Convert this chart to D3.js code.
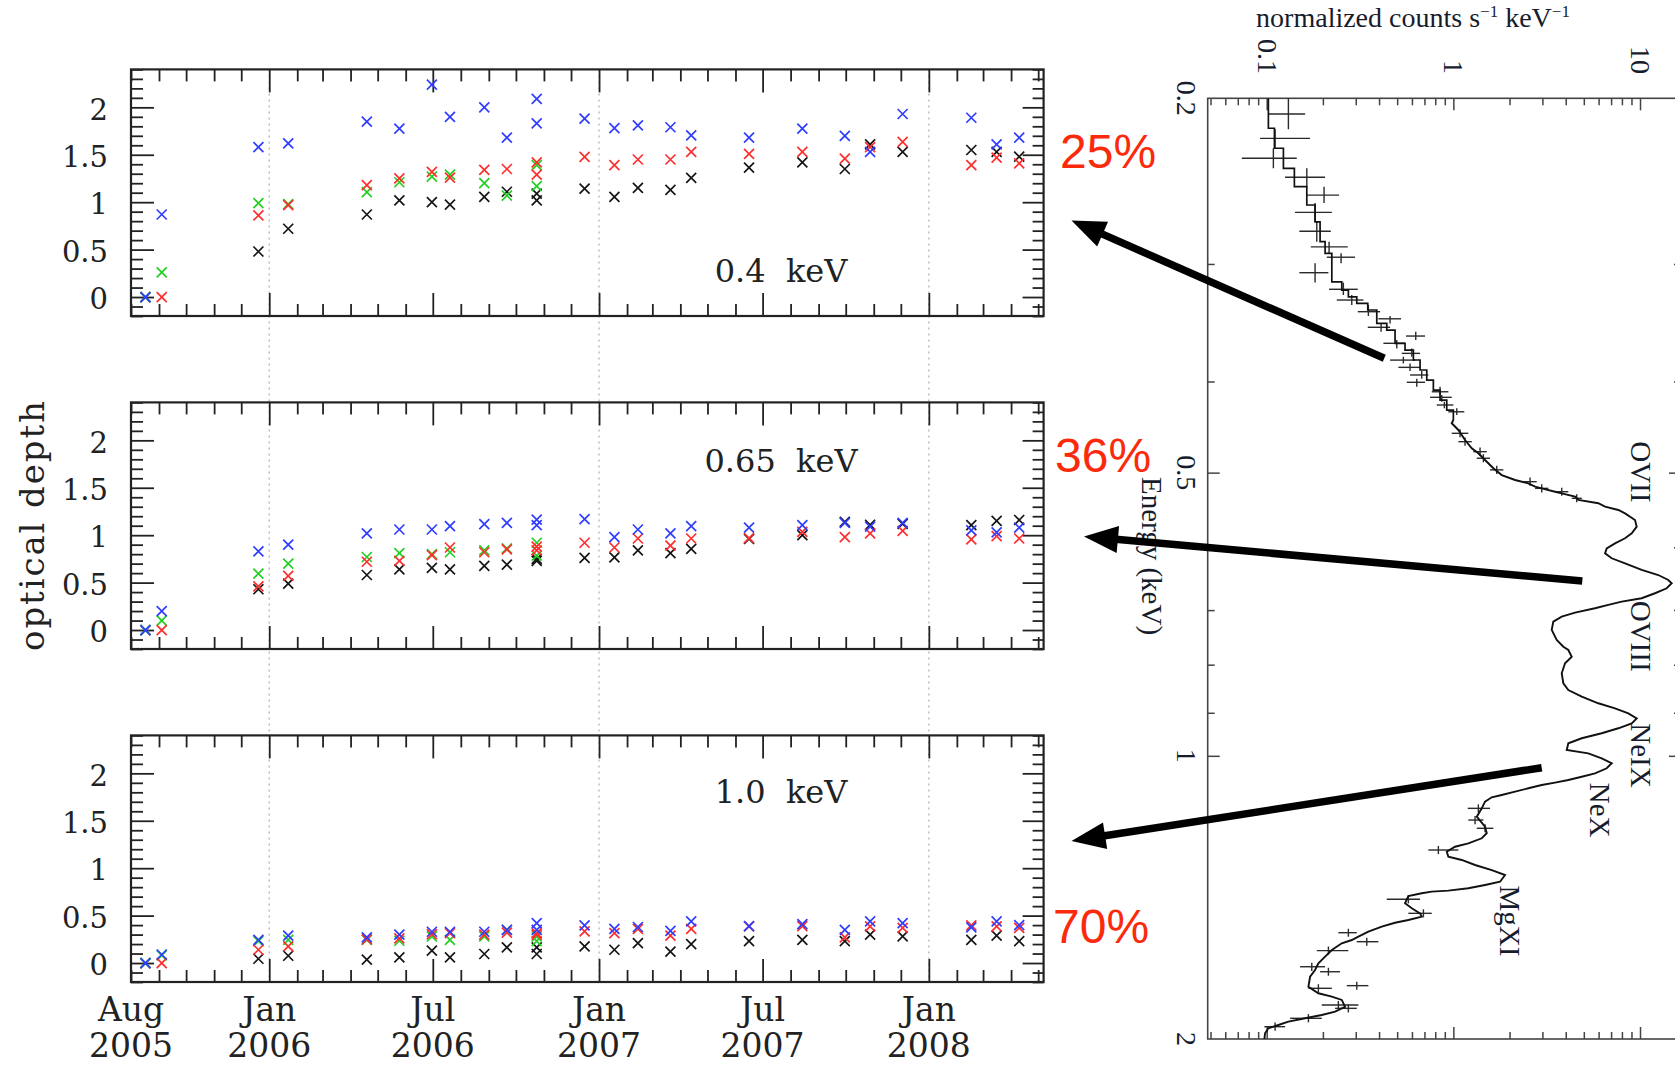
<!DOCTYPE html>
<html>
<head>
<meta charset="utf-8">
<script src="https://cdn.jsdelivr.net/npm/d3@7"></script>
<style>
  body { margin: 0; background: #fff; }
  svg { display: block; }
</style>
</head>
<body>
<svg id="chart" width="1675" height="1065"></svg>
<script>
// ---------------- optical depth time series ----------------
const _ = null;
const obsDates = [
  "2005-08-17","2005-09-04","2005-12-20","2006-01-22","2006-04-19","2006-05-25",
  "2006-06-30","2006-07-20","2006-08-27","2006-09-21","2006-10-24","2006-10-24",
  "2006-12-16","2007-01-18","2007-02-13","2007-03-21","2007-04-13","2007-06-16",
  "2007-08-14","2007-09-30","2007-10-28","2007-12-03","2008-02-17","2008-03-16","2008-04-10"
];

// 0.4 keV
const tau04Black = [0,_,0.48,0.72,0.87,1.02,1.00,0.975,1.056,1.11,1.09,1.02,1.144,1.056,1.15,1.13,1.256,1.365,1.42,1.35,1.61,1.53,1.55,1.53,1.48];
const tau04Green = [0,0.26,0.99,0.98,1.105,1.21,1.27,1.29,1.20,1.07,1.39,1.17,_,_,_,_,_,_,_,_,_,_,_,_,_];
const tau04Red   = [_,0,0.86,0.97,1.18,1.25,1.32,1.26,1.34,1.35,1.42,1.29,1.477,1.39,1.45,1.45,1.53,1.51,1.53,1.46,1.58,1.635,1.39,1.47,1.41];
const tau04Blue  = [0,0.87,1.58,1.62,1.85,1.775,2.24,1.90,2.00,1.68,2.09,1.83,1.88,1.78,1.81,1.79,1.705,1.68,1.775,1.70,1.53,1.93,1.89,1.61,1.68];

// 0.65 keV
const tau065Black = [0,_,0.43,0.49,0.58,0.64,0.655,0.64,0.676,0.69,0.75,0.73,0.76,0.765,0.84,0.81,0.855,0.96,1.0,1.14,1.11,1.12,1.105,1.15,1.16];
const tau065Green = [0,0.10,0.595,0.70,0.77,0.81,0.80,0.82,0.84,0.86,0.92,0.785,_,_,_,_,_,_,_,_,_,_,_,_,_];
const tau065Red   = [_,0,0.46,0.57,0.72,0.73,0.79,0.87,0.82,0.85,0.88,0.84,0.92,0.87,0.965,0.89,0.965,0.97,1.035,0.98,1.02,1.045,0.955,0.99,0.965];
const tau065Blue  = [0,0.20,0.83,0.90,1.02,1.06,1.06,1.095,1.116,1.13,1.165,1.105,1.17,0.98,1.06,1.02,1.095,1.08,1.105,1.13,1.09,1.13,1.05,1.03,1.08];

// 1.0 keV
const tau10Black = [0,_,0.045,0.077,0.035,0.06,0.13,0.06,0.095,0.165,0.165,0.095,0.175,0.14,0.21,0.12,0.20,0.23,0.245,0.23,0.30,0.28,0.245,0.29,0.23];
const tau10Green = [0,0.08,0.23,0.245,0.245,0.235,0.28,0.245,0.28,0.35,0.28,0.23,_,_,_,_,_,_,_,_,_,_,_,_,_];
const tau10Red   = [_,0,0.14,0.175,0.25,0.26,0.305,0.315,0.30,0.32,0.315,0.30,0.333,0.316,0.36,0.29,0.36,0.386,0.39,0.27,0.386,0.37,0.396,0.386,0.37];
const tau10Blue  = [0,0.09,0.245,0.29,0.27,0.30,0.33,0.33,0.33,0.35,0.42,0.35,0.396,0.36,0.38,0.34,0.44,0.39,0.41,0.35,0.44,0.42,0.375,0.44,0.40];

const bandLabels = ["0.4  keV", "0.65  keV", "1.0  keV"];
const bandLabelTau = [0.16, 1.67, 1.69];
const seriesColors = ["#151515", "#22d022", "#ff2e2e", "#2f3dff"];
const tauTickValues = [0, 0.5, 1, 1.5, 2];
const dateLabelTicks = ["2005-08-01","2006-01-01","2006-07-01","2007-01-01","2007-07-01","2008-01-01"];
const transmission = ["25%", "36%", "70%"];

// ---------------- spectrum ----------------
// model curve: energy (keV) and normalized counts; the first 25 entries are wide bins
const specEnergy = [0.2,0.2152,0.2260,0.2374,0.2483,0.2597,0.2706,0.2841,0.2923,0.3134,0.3198,0.3251,0.3304,0.3358,0.3470,0.3527,0.3643,0.3704,0.3795,0.3889,0.3986,0.4085,0.4186,0.4290,0.4396,
  0.4431,0.4504,0.4616,0.4711,0.4769,0.4848,0.4947,0.5030,0.5091,0.5133,0.5175,0.5196,0.5239,0.5260,0.5303,0.5346,0.5389,0.5434,0.5479,0.5524,0.5615,0.5707,0.5800,0.5871,0.5945,0.6018,0.6092,0.6166,0.6242,0.6345,0.6424,0.6503,0.6555,0.6636,0.6717,0.6800,0.6856,0.6912,0.6968,0.7043,0.7113,0.7201,0.7348,0.7531,0.7656,0.7718,0.7846,0.7973,0.8170,0.8374,0.8512,0.8652,0.8793,0.8903,0.9012,0.9123,0.9235,0.9348,0.9463,0.9579,0.9698,0.9858,
  0.9939,1.0061,1.0184,1.0309,1.0438,1.0525,1.0610,1.0679,1.0741,1.0827,1.0917,1.1006,1.1069,1.1187,1.1372,1.1607,1.1894,1.2087,1.2236,1.2389,1.2492,1.2645,1.2800,1.2904,1.3063,1.3226,1.3388,1.3609,1.3719,1.3830,1.3910,1.3945,1.4000,1.4094,1.4346,1.4525,1.4704,1.4826,1.4946,1.5046,1.5192,1.5379,1.5568,1.5697,1.5824,1.6085,1.6350,1.6616,1.6890,1.7173,1.7597,1.7883,1.8031,1.8177,1.8481,1.8708,1.8860,1.9012,1.9170,1.9325,1.9482,1.9721,2.0];
const specCounts = [0.1021,0.1021,0.1100,0.1229,0.1407,0.1640,0.1816,0.1932,0.2055,0.2233,0.2525,0.2739,0.3038,0.3479,0.3888,0.4399,0.4872,0.5510,0.6107,0.6632,0.7203,0.7814,0.8487,0.9218,1.000,
  0.980,1.064,1.155,1.255,1.361,1.478,1.638,1.816,2.141,2.522,2.739,2.975,3.505,3.807,4.486,4.673,5.978,6.495,7.653,8.313,9.402,9.601,9.027,8.313,7.347,6.630,6.495,7.053,8.313,10.21,12.53,14.17,14.78,13.90,12.03,10.21,7.980,6.764,5.741,4.486,3.807,3.432,3.365,3.579,3.884,4.130,4.308,3.966,3.807,3.884,4.130,4.873,5.978,7.347,8.659,9.601,9.027,7.653,6.234,4.873,4.130,4.049,
  5.285,6.234,7.053,6.630,5.741,4.873,4.130,3.505,2.975,2.522,2.141,1.816,1.606,1.478,1.420,1.335,1.478,1.510,1.420,1.203,1.021,0.922,0.940,1.109,1.307,1.606,1.892,1.779,1.478,1.203,0.940,0.766,0.677,0.574,0.551,0.599,0.663,0.677,0.574,0.487,0.4135,0.3505,0.3099,0.2856,0.2525,0.2233,0.2055,0.1892,0.1816,0.1708,0.1673,0.1892,0.2233,0.2525,0.2630,0.2325,0.1973,0.1606,0.1307,0.1155,0.1021,0.0980,0.0972];
const wideBinCount = 25;

// data points with error bars
const errEnergy   = [0.2078,0.2206,0.2316,0.2426,0.2535,0.2644,0.2769,0.2877,0.2951,0.3065,0.3192,0.3277,0.3372,0.3431,0.3503,0.3579,0.3643,0.3734,0.3796,0.3864,0.3937,0.4008,0.4102,0.4158,0.4237,0.4308,
  0.4541,0.4635,0.4750,0.4827,0.4966,0.5112,0.5196,0.5239,0.5324,
  1.1372,1.1702,1.1941,1.2593,1.4208,1.4704,1.5418,1.5762,1.6111,1.6758,1.6964,1.7552,1.7666,1.8405,1.8554,1.9012,1.9406];
const errEnergyLo = [0.2000,0.2158,0.2260,0.2374,0.2483,0.2584,0.2706,0.2841,0.2923,0.2995,0.3140,0.3237,0.3317,0.3408,0.3470,0.3541,0.3614,0.3689,0.3765,0.3827,0.3899,0.3973,0.4051,0.4135,0.4203,0.4271,
  0.4496,0.4589,0.4703,0.4779,0.4916,0.5061,0.5144,0.5187,0.5271,
  1.126,1.159,1.182,1.247,1.407,1.456,1.527,1.561,1.595,1.659,1.680,1.738,1.749,1.822,1.837,1.882,1.921];
const errEnergyHi = [0.2158,0.2260,0.2374,0.2483,0.2584,0.2706,0.2841,0.2923,0.2995,0.3140,0.3237,0.3317,0.3408,0.3470,0.3541,0.3614,0.3689,0.3765,0.3827,0.3899,0.3973,0.4051,0.4135,0.4203,0.4271,0.4343,
  0.4586,0.4681,0.4798,0.4875,0.5016,0.5163,0.5248,0.5291,0.5377,
  1.149,1.182,1.206,1.272,1.435,1.485,1.557,1.592,1.627,1.693,1.713,1.773,1.784,1.859,1.874,1.920,1.960];
const errCounts   = [0.1307,0.1109,0.1086,0.1640,0.2029,0.1816,0.1855,0.2159,0.2503,0.1816,0.2575,0.2856,0.3505,0.4581,0.4101,0.6289,0.4976,0.5986,0.5396,0.5862,0.6770,0.6368,0.8487,0.8667,0.8949,1.043,
  1.086,1.155,1.390,1.448,1.708,2.575,2.975,3.807,4.581,
  1.361,1.307,1.478,0.8311,0.574,0.6910,0.2739,0.3437,0.2141,0.1744,0.2141,0.3038,0.1892,0.2421,0.2739,0.1673,0.1109];
const errCountsLo = [0.1021,0.0922,0.0736,0.1255,0.1640,0.1419,0.1496,0.1723,0.2098,0.1496,0.2159,0.2374,0.3075,0.3966,0.3479,0.5580,0.4218,0.5290,0.4581,0.5075,0.5862,0.5629,0.7660,0.7504,0.8150,0.940,
  0.980,1.064,1.280,1.335,1.573,2.371,2.739,3.505,4.308,
  1.194,1.203,1.335,0.7347,0.4399,0.574,0.2421,0.3038,0.1855,0.1510,0.1932,0.2685,0.1673,0.1973,0.2325,0.1335,0.0972];
const errCountsHi = [0.1606,0.1708,0.1449,0.2055,0.2443,0.2233,0.2205,0.2719,0.2975,0.2141,0.3075,0.3296,0.4050,0.5247,0.4581,0.7053,0.5510,0.6632,0.6236,0.6632,0.7347,0.7053,0.9400,0.9800,1.000,1.145,
  1.203,1.255,1.510,1.573,1.853,2.797,3.227,4.130,4.873,
  1.573,1.448,1.638,1.064,0.6632,0.766,0.3038,0.3966,0.2739,0.2055,0.2472,0.3505,0.2233,0.3099,0.3038,0.1973,0.1255];

const countMajorTicks = [0.1, 1, 10];
const countMinorTicks = [0.05,0.06,0.07,0.08,0.09,0.2,0.3,0.4,0.5,0.6,0.7,0.8,0.9,2,3,4,5,6,7,8,9];
const energyMajorTicks = [0.5, 1];
const energyMinorTicks = [0.3,0.4,0.6,0.7,0.8,0.9];
const energyTickLabels = [0.2, 0.5, 1, 2];

// emission line identifications (label centre energy, label baseline counts)
const lineNames  = ["OVII", "OVIII", "NeIX", "NeX", "MgXI"];
const lineLabelE = [0.499, 0.746, 0.999, 1.142, 1.498];
const lineLabelC = [8.95, 8.95, 8.9, 5.4, 1.78];

// =======================================================
const svg = d3.select("#chart");
svg.append("rect").attr("width", 1675).attr("height", 1065).attr("fill", "#fff");

const parse = d3.utcParse("%Y-%m-%d");
const dates = obsDates.map(parse);
const xStart = parse("2005-08-01"), xEnd = parse("2008-05-07");
const x = d3.scaleUtc().domain([xStart, xEnd]).range([131, 1043.6]);
const panelTop = [69.4, 402.4, 735.4];
const panelH = 246.6;
const serif = "'DejaVu Serif', serif";

const months = d3.utcMonth.range(xStart, d3.utcDay.offset(xEnd, 1));
const isMajorMonth = d => d.getUTCMonth() === 0 || d.getUTCMonth() === 6;
const majorMonths = months.filter(isMajorMonth);
const minorMonths = months.filter(d => !isMajorMonth(d));
const tauMinor = d3.range(-2, 25).filter(k => k % 5 !== 0).map(k => k / 10);
const tauMajor = [0, 0.5, 1, 1.5, 2];

// dotted year markers behind every panel
const gridLayer = svg.append("g");
[parse("2006-01-01"), parse("2007-01-01"), parse("2008-01-01")].forEach(d => {
  gridLayer.append("line")
    .attr("x1", x(d)).attr("x2", x(d))
    .attr("y1", panelTop[0]).attr("y2", panelTop[2] + panelH)
    .attr("stroke", "#b8b8b8").attr("stroke-width", 1.4)
    .attr("stroke-dasharray", "2,4");
});

function styleTicks(sel) {
  sel.select(".domain").remove();
  sel.selectAll("line").attr("stroke", "#222").attr("stroke-width", 1.8);
  sel.selectAll("text").remove();
}

const panelSeries = [
  [tau04Black, tau04Green, tau04Red, tau04Blue],
  [tau065Black, tau065Green, tau065Red, tau065Blue],
  [tau10Black, tau10Green, tau10Red, tau10Blue]
];

panelSeries.forEach((series, pi) => {
  const top = panelTop[pi], bottom = top + panelH;
  const y = d3.scaleLinear().domain([-0.2, 2.4]).range([bottom, top]);
  const g = svg.append("g");

  // ticks on all four sides, pointing inward
  g.append("g").attr("transform", `translate(0,${bottom})`)
    .call(d3.axisBottom(x).tickValues(minorMonths).tickSizeInner(-12).tickSizeOuter(0)).call(styleTicks);
  g.append("g").attr("transform", `translate(0,${bottom})`)
    .call(d3.axisBottom(x).tickValues(majorMonths).tickSizeInner(-23).tickSizeOuter(0)).call(styleTicks);
  g.append("g").attr("transform", `translate(0,${top})`)
    .call(d3.axisTop(x).tickValues(minorMonths).tickSizeInner(-12).tickSizeOuter(0)).call(styleTicks);
  g.append("g").attr("transform", `translate(0,${top})`)
    .call(d3.axisTop(x).tickValues(majorMonths).tickSizeInner(-23).tickSizeOuter(0)).call(styleTicks);
  g.append("g").attr("transform", `translate(${x.range()[0]},0)`)
    .call(d3.axisLeft(y).tickValues(tauMinor).tickSizeInner(-12).tickSizeOuter(0)).call(styleTicks);
  g.append("g").attr("transform", `translate(${x.range()[0]},0)`)
    .call(d3.axisLeft(y).tickValues(tauMajor).tickSizeInner(-23).tickSizeOuter(0)).call(styleTicks);
  g.append("g").attr("transform", `translate(${x.range()[1]},0)`)
    .call(d3.axisRight(y).tickValues(tauMinor).tickSizeInner(-11).tickSizeOuter(0)).call(styleTicks);
  g.append("g").attr("transform", `translate(${x.range()[1]},0)`)
    .call(d3.axisRight(y).tickValues(tauMajor).tickSizeInner(-21).tickSizeOuter(0)).call(styleTicks);

  // frame
  g.append("rect")
    .attr("x", x.range()[0]).attr("y", top)
    .attr("width", x.range()[1] - x.range()[0]).attr("height", panelH)
    .attr("fill", "none").attr("stroke", "#222").attr("stroke-width", 2.2);

  // y tick labels
  g.selectAll("text.ytl").data(tauTickValues).join("text")
    .attr("class", "ytl")
    .attr("x", 108).attr("y", d => y(d)).attr("dy", "0.42em")
    .attr("text-anchor", "end")
    .attr("font-family", serif).attr("font-size", 29).attr("fill", "#222")
    .text(d3.format("~g"));

  // band label
  g.append("text")
    .attr("x", 781).attr("y", y(bandLabelTau[pi]))
    .attr("text-anchor", "middle")
    .attr("font-family", serif).attr("font-size", 32).attr("fill", "#222")
    .style("white-space", "pre")
    .text(bandLabels[pi]);

  // observations
  series.forEach((vals, si) => {
    const pts = vals.map((v, i) => ({ d: dates[i], v })).filter(p => p.v !== null);
    g.append("g").selectAll("path").data(pts).join("path")
      .attr("transform", p => `translate(${x(p.d)},${y(p.v)})`)
      .attr("d", "M-5,-5L5,5M-5,5L5,-5")
      .attr("fill", "none")
      .attr("stroke", seriesColors[si]).attr("stroke-width", 1.7);
  });
});

// date labels under the last panel
const fmtMonth = d3.utcFormat("%b"), fmtYear = d3.utcFormat("%Y");
const dateTicks = dateLabelTicks.map(parse);
const xLab = svg.append("g").attr("font-family", serif).attr("font-size", 33).attr("fill", "#222").attr("text-anchor", "middle");
xLab.selectAll("text.m").data(dateTicks).join("text").attr("class", "m")
  .attr("x", d => x(d)).attr("y", 1021).text(fmtMonth);
xLab.selectAll("text.yr").data(dateTicks).join("text").attr("class", "yr")
  .attr("x", d => x(d)).attr("y", 1056.5).text(fmtYear);

// y axis title
svg.append("text")
  .attr("transform", "translate(44,526) rotate(-90)")
  .attr("text-anchor", "middle")
  .attr("font-family", serif).attr("font-size", 34).attr("fill", "#222")
  .attr("textLength", 250).attr("lengthAdjust", "spacing")
  .text("optical depth");

// ---------------- spectrum panel (rotated: energy runs downward) ----------------
const sx = d3.scaleLog().domain([0.0483, 16.58]).range([1207.7, 1681]);
const sy = d3.scaleLog().domain([0.2, 2]).range([98.3, 1039]);
const times = "'Liberation Serif', 'Times New Roman', serif";
const specInk = "#161c2c";
const sp = svg.append("g");

function styleSpecTicks(sel) {
  sel.select(".domain").remove();
  sel.selectAll("line").attr("stroke", "#444").attr("stroke-width", 1.5);
  sel.selectAll("text").remove();
}
sp.append("g").attr("transform", "translate(0,98.3)")
  .call(d3.axisTop(sx).tickValues(countMinorTicks).tickSizeInner(-7).tickSizeOuter(0)).call(styleSpecTicks);
sp.append("g").attr("transform", "translate(0,98.3)")
  .call(d3.axisTop(sx).tickValues(countMajorTicks).tickSizeInner(-12).tickSizeOuter(0)).call(styleSpecTicks);
sp.append("g").attr("transform", "translate(0,1039)")
  .call(d3.axisBottom(sx).tickValues(countMinorTicks).tickSizeInner(-7).tickSizeOuter(0)).call(styleSpecTicks);
sp.append("g").attr("transform", "translate(0,1039)")
  .call(d3.axisBottom(sx).tickValues(countMajorTicks).tickSizeInner(-12).tickSizeOuter(0)).call(styleSpecTicks);
sp.append("g").attr("transform", "translate(1207.7,0)")
  .call(d3.axisLeft(sy).tickValues(energyMinorTicks).tickSizeInner(-7).tickSizeOuter(0)).call(styleSpecTicks);
sp.append("g").attr("transform", "translate(1207.7,0)")
  .call(d3.axisLeft(sy).tickValues(energyMajorTicks).tickSizeInner(-12).tickSizeOuter(0)).call(styleSpecTicks);
sp.append("g").attr("transform", "translate(1681,0)")
  .call(d3.axisRight(sy).tickValues(energyMinorTicks).tickSizeInner(-7).tickSizeOuter(0)).call(styleSpecTicks);
sp.append("g").attr("transform", "translate(1681,0)")
  .call(d3.axisRight(sy).tickValues(energyMajorTicks).tickSizeInner(-12).tickSizeOuter(0)).call(styleSpecTicks);
sp.append("rect").attr("x", 1207.7).attr("y", 98.3).attr("width", 1681 - 1207.7).attr("height", 1039 - 98.3)
  .attr("fill", "none").attr("stroke", "#444").attr("stroke-width", 1.6);

// count tick labels (rotated)
sp.selectAll("text.ctl").data(countMajorTicks).join("text").attr("class", "ctl")
  .attr("transform", d => `translate(${sx(d) - 9},74) rotate(90)`)
  .attr("text-anchor", "end")
  .attr("font-family", times).attr("font-size", 28).attr("fill", specInk)
  .text(d3.format("~g"));
// energy tick labels (rotated)
sp.selectAll("text.etl").data(energyTickLabels).join("text").attr("class", "etl")
  .attr("transform", d => `translate(1177,${sy(d)}) rotate(90)`)
  .attr("text-anchor", "middle")
  .attr("font-family", times).attr("font-size", 28).attr("fill", specInk)
  .text(d3.format("~g"));

// axis titles
const ct = sp.append("text").attr("x", 1413).attr("y", 27).attr("text-anchor", "middle")
  .attr("font-family", times).attr("font-size", 28).attr("fill", specInk);
ct.append("tspan").text("normalized counts s");
ct.append("tspan").attr("font-size", 17).attr("dy", -10).text("−1");
ct.append("tspan").attr("dy", 10).text(" keV");
ct.append("tspan").attr("font-size", 17).attr("dy", -10).text("−1");

sp.append("text")
  .attr("transform", "translate(1142,556) rotate(90)")
  .attr("text-anchor", "middle")
  .attr("font-family", times).attr("font-size", 29).attr("fill", specInk)
  .text("Energy (keV)");

// clip for spectrum contents
svg.append("defs").append("clipPath").attr("id", "specClip")
  .append("rect").attr("x", 1207.7).attr("y", 98.3).attr("width", 1681 - 1207.7).attr("height", 1039 - 98.3);
const spIn = sp.append("g").attr("clip-path", "url(#specClip)");

// error crosses
const errs = errEnergy.map((e, i) => ({
  e, elo: errEnergyLo[i], ehi: errEnergyHi[i],
  c: errCounts[i], clo: errCountsLo[i], chi: errCountsHi[i]
}));
const eg = spIn.append("g").attr("stroke", "#2a2a2a").attr("stroke-width", 1.4);
eg.selectAll("line.h").data(errs).join("line").attr("class", "h")
  .attr("x1", d => sx(d.clo)).attr("x2", d => sx(d.chi))
  .attr("y1", d => sy(d.e)).attr("y2", d => sy(d.e));
eg.selectAll("line.v").data(errs).join("line").attr("class", "v")
  .attr("x1", d => sx(d.c)).attr("x2", d => sx(d.c))
  .attr("y1", d => sy(d.elo)).attr("y2", d => sy(d.ehi));

// folded model: wide bins as steps, the finely binned part as a polyline
const spec = specEnergy.map((e, i) => ({ e, c: specCounts[i] }));
const wide = spec.slice(0, wideBinCount);
const fine = spec.slice(wideBinCount - 1);
spIn.append("path").datum(wide)
  .attr("d", d3.line().x(d => sx(d.c)).y(d => sy(d.e)).curve(d3.curveStepAfter))
  .attr("fill", "none").attr("stroke", "#111").attr("stroke-width", 1.7);
spIn.append("path").datum(fine)
  .attr("d", d3.line().x(d => sx(d.c)).y(d => sy(d.e)))
  .attr("fill", "none").attr("stroke", "#111").attr("stroke-width", 1.9)
  .attr("stroke-linejoin", "miter");

// line identifications
sp.selectAll("text.lid").data(lineNames).join("text").attr("class", "lid")
  .attr("transform", (d, i) => `translate(${sx(lineLabelC[i])},${sy(lineLabelE[i])}) rotate(90)`)
  .attr("text-anchor", "middle")
  .attr("font-family", times).attr("font-size", 29).attr("fill", specInk)
  .text(d => d);

// ---------------- annotations: transmitted fractions and arrows ----------------
const pctPos = [[1060, 168], [1055, 472], [1053, 943]];
svg.selectAll("text.pct").data(transmission).join("text").attr("class", "pct")
  .attr("x", (d, i) => pctPos[i][0]).attr("y", (d, i) => pctPos[i][1])
  .attr("font-family", "'Liberation Sans', Arial, sans-serif").attr("font-size", 48)
  .attr("fill", "#fb2a0c")
  .text(d => d);

const arrows = [
  [1384.3, 358.3, 1071.5, 220.5],
  [1582.3, 581.0, 1084.0, 536.5],
  [1541.7, 767.7, 1071.5, 841.0]
];
const ag = svg.append("g");
arrows.forEach(([x1, y1, x2, y2]) => {
  const len = Math.hypot(x1 - x2, y1 - y2);
  const ux = (x1 - x2) / len, uy = (y1 - y2) / len;
  const L = 34, hw = 13.5;
  const bx = x2 + ux * L, by = y2 + uy * L;
  ag.append("line")
    .attr("x1", x1).attr("y1", y1).attr("x2", bx - ux * 2).attr("y2", by - uy * 2)
    .attr("stroke", "#000").attr("stroke-width", 7.5);
  ag.append("path")
    .attr("d", `M${x2},${y2}L${bx - uy * hw},${by + ux * hw}L${bx + uy * hw},${by - ux * hw}Z`)
    .attr("fill", "#000");
});
</script>
</body>
</html>
